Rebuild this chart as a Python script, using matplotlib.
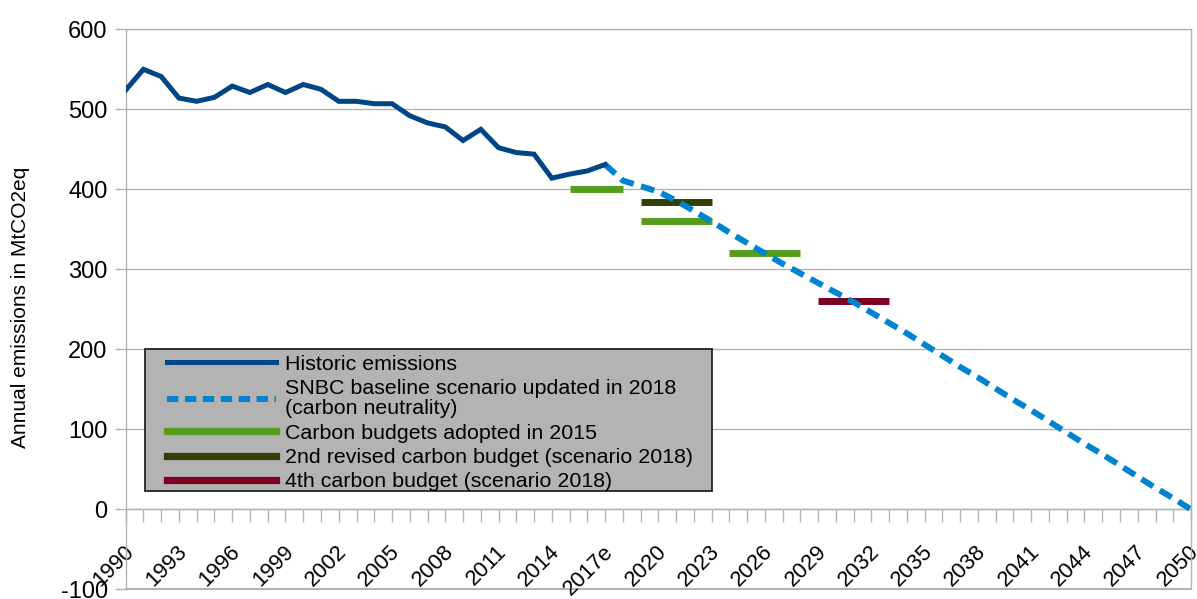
import matplotlib
matplotlib.use("Agg")
import matplotlib.pyplot as plt
from matplotlib.patches import Rectangle
from matplotlib.lines import Line2D
import matplotlib.transforms as mtransforms

plt.rcParams['font.family'] = ['Liberation Sans', 'DejaVu Sans']
plt.rcParams['axes.unicode_minus'] = False

# ---- data ----
hist_years = list(range(1990, 2018))
hist_values = [524, 550, 541, 514, 510, 515, 529, 521, 531, 521, 531, 525,
               510, 510, 507, 507, 492, 483, 478, 461, 475, 452, 446, 444,
               414, 419, 423, 431]

scen_years = list(range(2017, 2051))
scen_values = [431, 411, 404, 397, 386, 373, 360, 346, 333, 320, 307, 295,
               283, 271, 259, 246, 233, 220, 206, 192, 178, 165, 151, 137,
               124, 110, 96, 82, 69, 55, 41, 27, 14, 0]

b2015_start = [2015, 2019, 2024]
b2015_end = [2018, 2023, 2028]
b2015_value = [401, 360, 320]

b2nd_start = [2019]
b2nd_end = [2023]
b2nd_value = [384]

b4th_start = [2029]
b4th_end = [2033]
b4th_value = [260]

tick_years = list(range(1990, 2051, 3))
tick_labels = [str(y) if y != 2017 else "2017e" for y in tick_years]

labels = ["Historic emissions",
          "SNBC baseline scenario updated in 2018\n(carbon neutrality)",
          "Carbon budgets adopted in 2015",
          "2nd revised carbon budget (scenario 2018)",
          "4th carbon budget (scenario 2018)"]

c_hist = '#004586'
c_scen = '#0084d1'
c_b2015 = '#579d1c'
c_b2nd = '#314004'
c_b4th = '#7e0021'
grid_c = '#b3b3b3'

fig = plt.figure(figsize=(11.97, 5.99), dpi=100)
ax = fig.add_axes([0.105, 0.0159, 0.890, 0.9352])
ax.set_xlim(1990, 2050)
ax.set_ylim(-100, 600)

ax.set_yticks(range(-100, 700, 100))
ax.grid(axis='y', color=grid_c, lw=1.0, zorder=0)
ax.set_axisbelow(True)

for s in ['left', 'right', 'top', 'bottom']:
    ax.spines[s].set_color(grid_c)
    ax.spines[s].set_linewidth(1.0)
ax.spines['bottom'].set_position(('data', 0))

# frame at bottom
ax.axhline(-100, color=grid_c, lw=1.5, zorder=0, clip_on=False)

ax.tick_params(axis='y', length=8, width=1, color=grid_c, pad=5, labelsize=17)
ax.set_xticks(tick_years)
ax.set_xticks(list(range(1990, 2051)), minor=True)
ax.set_xticklabels(tick_labels, rotation=45, ha='right', va='center',
                   rotation_mode='anchor', fontsize=15.8)
ax.tick_params(axis='x', which='both', length=9, width=1, color=grid_c, pad=17)
offset = mtransforms.ScaledTranslation(5 / 100, -3 / 100, fig.dpi_scale_trans)
for lab in ax.get_xticklabels():
    lab.set_transform(lab.get_transform() + offset)

# lines
ax.plot(hist_years, hist_values, color=c_hist, lw=3.6, zorder=4,
        solid_joinstyle='miter')
ax.plot(scen_years, scen_values, color=c_scen, lw=4.3, zorder=3,
        dashes=(2.3, 1.3), dash_capstyle='butt')

for s, e, v in zip(b2015_start, b2015_end, b2015_value):
    ax.plot([s, e], [v, v], color=c_b2015, lw=5, solid_capstyle='butt', zorder=2)
for s, e, v in zip(b2nd_start, b2nd_end, b2nd_value):
    ax.plot([s, e], [v, v], color=c_b2nd, lw=5, solid_capstyle='butt', zorder=2)
for s, e, v in zip(b4th_start, b4th_end, b4th_value):
    ax.plot([s, e], [v, v], color=c_b4th, lw=5, solid_capstyle='butt', zorder=2)

# legend box
ax.add_patch(Rectangle((0.0181, 0.1758), 0.5325, 0.2535, transform=ax.transAxes,
                       facecolor='#b3b3b3', edgecolor='#222222', lw=1.3,
                       zorder=5))
handles = [Line2D([], [], color=c_hist, lw=3.6),
           Line2D([], [], color=c_scen, lw=4.3, dashes=(1.9, 1.1)),
           Line2D([], [], color=c_b2015, lw=5.2),
           Line2D([], [], color=c_b2nd, lw=5.2),
           Line2D([], [], color=c_b4th, lw=5.2)]
leg = ax.legend(handles, labels, loc='upper left',
                bbox_to_anchor=(0.0388, 0.419), frameon=False, fontsize=15.4,
                handlelength=5.1, handletextpad=0.42, labelspacing=0.25,
                borderpad=0, borderaxespad=0)
leg.set_zorder(6)
for t in leg.get_texts():
    t.set_linespacing(1.08)

fig.text(21 / 1197, 0.487, "Annual emissions in MtCO2eq", rotation=90,
         ha='center', va='center', fontsize=15)

fig.savefig("out.png", dpi=100)
